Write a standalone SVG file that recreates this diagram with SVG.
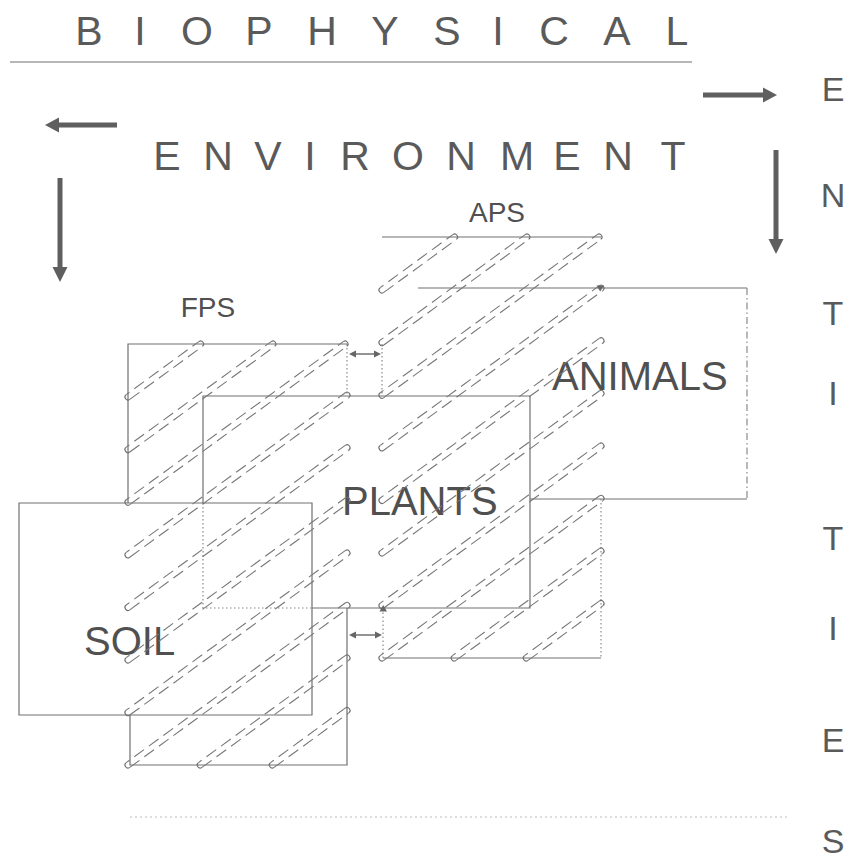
<svg xmlns="http://www.w3.org/2000/svg" width="853" height="865" viewBox="0 0 853 865">
<style>
text{font-family:"Liberation Sans",Arial,Helvetica,sans-serif;fill:#505050}
.big{font-size:41px;fill:#5a5a5a}
.lab{font-size:28px}
.box{font-size:40px}
.ent{font-size:34px;fill:#5a5a5a}
.ln{stroke:#707070;stroke-width:1.2;fill:none}
.dot{stroke:#8a8a8a;stroke-width:1.2;stroke-dasharray:1.5 2.5;fill:none}
.dd{stroke:#8a8a8a;stroke-width:1.2;stroke-dasharray:7 3 1.5 3;fill:none}
.side{stroke:#777;stroke-width:1.1;stroke-dasharray:12 6;fill:none}
.caps{stroke:#000;stroke-opacity:0;fill:none;marker-start:url(#cs);marker-end:url(#ce)}
.arr{stroke:#5f5f5f;stroke-width:5;fill:none}
.head{fill:#5f5f5f}
.sm{stroke:#666;stroke-width:1.4;fill:none}
.smh{fill:#666}
.faint{stroke:#bdbdbd;stroke-width:1;stroke-dasharray:2 3;fill:none}
</style>
<defs>
<marker id="ce" markerUnits="userSpaceOnUse" markerWidth="9" markerHeight="9" viewBox="-4.5 -4.5 9 9" refX="0" refY="0" orient="auto" overflow="visible"><path d="M0-3A3 3 0 0 1 0 3" fill="none" stroke="#6f6f6f" stroke-width="1.1"/></marker>
<marker id="cs" markerUnits="userSpaceOnUse" markerWidth="9" markerHeight="9" viewBox="-4.5 -4.5 9 9" refX="0" refY="0" orient="auto" overflow="visible"><path d="M0-3A3 3 0 0 0 0 3" fill="none" stroke="#6f6f6f" stroke-width="1.1"/></marker>
<g id="tb">
<line x1="128" y1="397" x2="200.6" y2="344"/>
<line x1="128" y1="449.6" x2="272.9" y2="344"/>
<line x1="128" y1="502.2" x2="345" y2="344"/>
<line x1="128" y1="554.8" x2="347" y2="395.2"/>
<line x1="128" y1="607.4" x2="347" y2="447.8"/>
<line x1="128" y1="660" x2="347" y2="500.4"/>
<line x1="128" y1="712.6" x2="347" y2="553"/>
<line x1="128" y1="765" x2="347" y2="605.4"/>
<line x1="200.2" y1="765" x2="347" y2="658"/>
<line x1="272.3" y1="765" x2="347" y2="710.5"/>
</g>
</defs>

<g id="title">
<text class="big" text-anchor="middle" x="89 140 197 259 322 385 447 498 554 617 677" y="45">BIOPHYSICAL</text>
<line x1="10" y1="62" x2="692" y2="62" class="ln" stroke-width="1.5"/>
<text class="big" text-anchor="middle" x="167 218 268 310 355 408 461 517 567 618 673" y="170">ENVIRONMENT</text>
</g>

<g id="entities">
<text class="ent" text-anchor="middle" x="833 833 833 833 833 833 833 833" y="101 207 325 405 550 640 752 853">ENTITIES</text>
</g>

<g id="soil">
<path class="ln" d="M312 535V503H19V715H312V535"/>
<text class="box" x="84" y="655">SOIL</text>
</g>

<g id="plants">
<path class="ln" d="M203 503V396H530V608H312"/>
<path class="dot" d="M203 503V608H312"/>
<text class="box" x="342" y="515">PLANTS</text>
</g>

<g id="animals">
<path class="ln" d="M418 288H747"/>
<path class="dd" d="M747 288V499"/>
<path class="ln" d="M530 499H747"/>
<text class="box" x="552" y="390">ANIMALS</text>
</g>

<g id="fps">
<path class="ln" d="M128 503V344H347"/>
<path class="dot" d="M347 344V396"/>
<path class="ln" d="M347 608V765H130V715"/>
<use href="#tb" class="side" transform="translate(1.77 2.42)"/>
<use href="#tb" class="side" style="stroke-dashoffset:8" transform="translate(-1.77 -2.42)"/>
<use href="#tb" class="caps"/>
<text class="lab" text-anchor="middle" x="208" y="317">FPS</text>
</g>

<g id="aps">
<path class="ln" d="M382 237H601"/>
<path class="dot" d="M382 344V396"/>
<path class="dot" d="M601 499V658"/>
<path class="ln" d="M601 658H383"/>
<path class="dot" d="M383 658V608"/>
<g transform="translate(254 -107)">
<use href="#tb" class="side" transform="translate(1.77 2.42)"/>
<use href="#tb" class="side" style="stroke-dashoffset:8" transform="translate(-1.77 -2.42)"/>
<use href="#tb" class="caps"/>
</g>
<path class="smh" d="M596.5 285.5H604L600.2 291.5Z"/>
<path class="smh" d="M379.5 611.5H387L383.2 605Z"/>
<text class="lab" text-anchor="middle" x="497" y="222">APS</text>
</g>

<g id="connectors">
<line x1="117" y1="125" x2="57" y2="125" class="arr"/>
<path class="head" d="M45 125L59 117.5V132.5Z"/>
<line x1="60" y1="178" x2="60" y2="270" class="arr"/>
<path class="head" d="M60 282L52.5 267H67.5Z"/>
<line x1="703" y1="95" x2="765" y2="95" class="arr"/>
<path class="head" d="M777 95L763 87.5V102.5Z"/>
<line x1="776" y1="150" x2="776" y2="241" class="arr"/>
<path class="head" d="M776 254L768.5 239H783.5Z"/>
<line x1="355" y1="354" x2="375" y2="354" class="sm"/>
<path class="smh" d="M349 354L356 350.5V357.5Z"/>
<path class="smh" d="M381 354L374 350.5V357.5Z"/>
<line x1="355" y1="635" x2="376" y2="635" class="sm"/>
<path class="smh" d="M349 635L356 631.5V638.5Z"/>
<path class="smh" d="M382 635L375 631.5V638.5Z"/>
</g>

<line x1="130" y1="817" x2="790" y2="817" class="faint"/>
</svg>
